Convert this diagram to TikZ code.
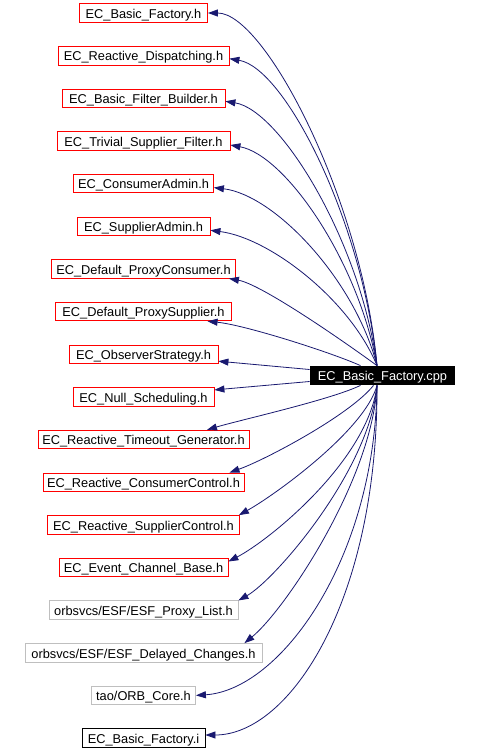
\documentclass[tikz,border=0pt]{standalone}
\usepackage{fontspec}
\setmainfont{Liberation Sans}
\usetikzlibrary{arrows.meta,calc}
\definecolor{edgecol}{HTML}{191970}
\definecolor{graycol}{HTML}{BFBFBF}
\begin{document}
\begin{tikzpicture}[x=1pt,y=-1pt,
  box/.style={line width=0.8pt, minimum height=18.5pt, inner sep=0pt,
    text height=10.5pt, text depth=0pt,
    font=\fontsize{12.8}{14}\selectfont, anchor=center},
  redbox/.style={box, draw=red},
  graybox/.style={box, draw=graycol},
  blackbox/.style={box, draw=black},
  edge/.style={draw=edgecol, line width=0.8pt,
    -{Triangle[length=10pt,width=7pt]}}]
\useasboundingbox (0,0) rectangle (478,750);
\fill[white] (0,0) rectangle (478,750);
\node[redbox, minimum width=128pt] (bfh) at (143.5,13) {EC\_Basic\_Factory.h};
\node[redbox, minimum width=171pt] (rd) at (143.5,55.65) {EC\_Reactive\_Dispatching.h};
\node[redbox, minimum width=163pt] (bfb) at (143.5,98.3) {EC\_Basic\_Filter\_Builder.h};
\node[redbox, minimum width=173pt] (tsf) at (143.5,141) {EC\_Trivial\_Supplier\_Filter.h};
\node[redbox, minimum width=140pt] (ca) at (143.5,183.6) {EC\_ConsumerAdmin.h};
\node[redbox, minimum width=133pt] (sa) at (143.5,226.3) {EC\_SupplierAdmin.h};
\node[redbox, minimum width=184pt] (dpc) at (143.5,268.9) {EC\_Default\_ProxyConsumer.h};
\node[redbox, minimum width=176pt] (dps) at (143.5,311.6) {EC\_Default\_ProxySupplier.h};
\node[redbox, minimum width=149pt] (os) at (143.5,354.2) {EC\_ObserverStrategy.h};
\node[redbox, minimum width=141pt] (ns) at (143.5,396.9) {EC\_Null\_Scheduling.h};
\node[redbox, minimum width=211pt] (rtg) at (143.5,439.5) {EC\_Reactive\_Timeout\_Generator.h};
\node[redbox, minimum width=201pt] (rcc) at (143.5,482.2) {EC\_Reactive\_ConsumerControl.h};
\node[redbox, minimum width=192pt] (rsc) at (143.5,524.8) {EC\_Reactive\_SupplierControl.h};
\node[redbox, minimum width=169pt] (ecb) at (143.5,567.5) {EC\_Event\_Channel\_Base.h};
\node[graybox, minimum width=189pt] (pl) at (143.5,610.1) {orbsvcs/ESF/ESF\_Proxy\_List.h};
\node[graybox, minimum width=237pt] (dc) at (143.5,652.8) {orbsvcs/ESF/ESF\_Delayed\_Changes.h};
\node[graybox, minimum width=104pt] (orb) at (143.5,695.4) {tao/ORB\_Core.h};
\node[blackbox, minimum width=123pt] (bfi) at (143.5,738) {EC\_Basic\_Factory.i};
\node[box, fill=black, text=white, minimum width=145pt, minimum height=19pt, text height=9.4pt] (cpp) at (382.5,375.5) {EC\_Basic\_Factory.cpp};
\coordinate (ct) at ($(cpp.north)+(-5.5,0)$);
\coordinate (cb) at ($(cpp.south)+(-5.5,0)$);
\draw[edge] (ct) .. controls (362,200) and (265,13) .. (bfh.east);
\draw[edge] (ct) .. controls (362,220) and (285,68) .. ($(rd.east)+(0,3)$);
\draw[edge] (ct) .. controls (360,240) and (280,110) .. ($(bfb.east)+(0,3)$);
\draw[edge] (ct) .. controls (358,260) and (285,155) .. ($(tsf.east)+(0,4)$);
\draw[edge] (ct) .. controls (355,280) and (275,195) .. ($(ca.east)+(0,4)$);
\draw[edge] (ct) .. controls (350,300) and (270,238) .. ($(sa.east)+(0,4)$);
\draw[edge] (ct) .. controls (335,335) and (260,284) .. ($(dpc.south east)+(-7,0)$);
\draw[edge] ($(cpp.north)+(-22,0)$) .. controls (330,352) and (245,325) .. ($(dps.south)+(64,0)$);
\draw[edge] ($(cpp.west)+(0,-6)$) -- ($(os.east)+(0,7)$);
\draw[edge] ($(cpp.west)+(0,6)$) -- ($(ns.east)+(0,-7)$);
\draw[edge] ($(cpp.south)+(-22,0)$) .. controls (330,400) and (240,420) .. ($(rtg.north)+(63.5,0)$);
\draw[edge] ($(cpp.south)+(-9,0)$) .. controls (350,415) and (265,460) .. ($(rcc.north)+(86,0)$);
\draw[edge] (cb) .. controls (365,430) and (275,495) .. ($(rsc.north east)+(-1,0)$);
\draw[edge] (cb) .. controls (368,460) and (270,540) .. ($(ecb.east)+(0,-6)$);
\draw[edge] (cb) .. controls (370,470) and (275,580) .. (pl.north east);
\draw[edge] (cb) .. controls (372,480) and (285,610) .. ($(dc.north east)+(-18,0)$);
\draw[edge] (cb) .. controls (375,560) and (280,690) .. (orb.east);
\draw[edge] (cb) .. controls (378,600) and (290,735) .. ($(bfi.east)+(0,-3)$);
\end{tikzpicture}
\end{document}
